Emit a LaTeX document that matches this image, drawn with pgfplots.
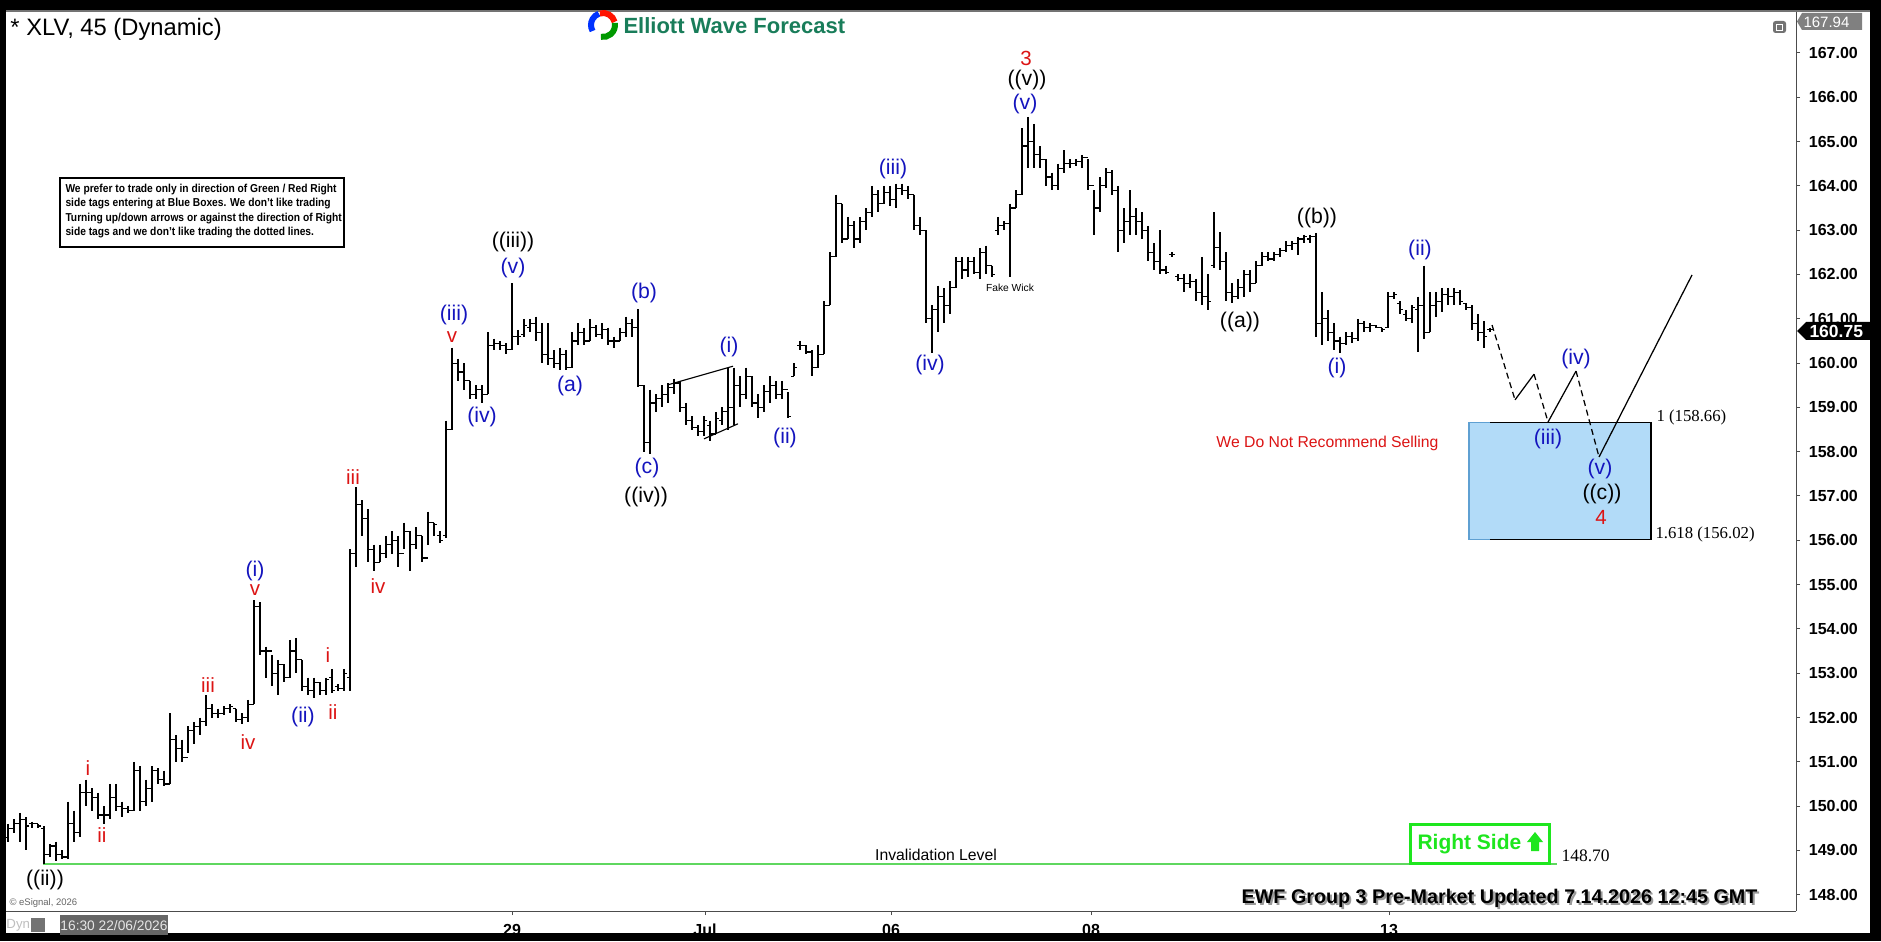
\documentclass[border=0pt]{standalone}
\usepackage{fontspec}
\setmainfont{Liberation Sans}
\newfontfamily\serif{Liberation Serif}
\usepackage{pgfplots}
\usepackage{pgfplotstable}
\pgfplotsset{compat=1.18}

\definecolor{wblue}{RGB}{20,20,190}
\definecolor{wred}{RGB}{220,20,20}
\definecolor{invgreen}{RGB}{95,215,95}
\definecolor{rsgreen}{RGB}{30,230,30}
\definecolor{boxblue}{RGB}{178,219,248}
\definecolor{boxedge}{RGB}{95,160,210}
\definecolor{ewfgreen}{RGB}{25,125,90}

% open / close ticks of the OHLC bars
\pgfdeclareplotmark{otick}{\pgfpathmoveto{\pgfqpoint{-1.2pt}{0pt}}\pgfpathlineto{\pgfqpoint{0pt}{0pt}}\pgfusepathqstroke}
\pgfdeclareplotmark{ctick}{\pgfpathmoveto{\pgfqpoint{0pt}{0pt}}\pgfpathlineto{\pgfqpoint{1.2pt}{0pt}}\pgfusepathqstroke}

% 45 min bars: x position (px), high, low, open, close
\pgfplotstableread{
x h l o c
8 149.6 149.2 149.3 149.5
14 149.7 149.4 149.5 149.6
20 149.85 149.2 149.6 149.7
26 149.75 149.0 149.7 149.55
32 149.65 149.5 149.6 149.6
38 149.6 149.5 149.6 149.55
44 149.55 148.70 149.5 148.9
50 149.15 148.85 148.9 149.1
56 149.2 148.75 149.1 148.9
62 149.0 148.8 148.9 148.85
68 150.1 148.8 148.85 149.6
74 149.9 149.2 149.6 149.4
80 150.5 149.3 149.4 150.3
86 150.6 150.0 150.3 150.3
92 150.4 149.9 150.3 150.2
98 150.3 149.7 150.2 149.8
104 150.0 149.6 149.8 149.8
110 150.5 149.7 149.8 150.2
116 150.5 149.9 150.2 150.0
122 150.1 149.75 150.0 149.95
128 150.0 149.85 149.95 149.9
134 151.0 149.9 149.9 150.8
140 150.9 149.9 150.8 150.1
146 150.6 150.0 150.1 150.4
152 150.9 150.1 150.4 150.8
158 150.85 150.5 150.8 150.6
164 150.8 150.45 150.6 150.5
170 152.1 150.5 150.5 151.5
176 151.6 151.0 151.5 151.3
182 151.5 151.0 151.3 151.1
188 151.8 151.2 151.1 151.7
194 151.9 151.4 151.7 151.8
200 152.0 151.6 151.8 151.9
206 152.5 151.8 151.9 152.2
212 152.3 152.0 152.2 152.1
218 152.2 152.0 152.1 152.1
224 152.25 152.05 152.1 152.2
230 152.3 152.1 152.2 152.25
236 152.2 151.9 152.2 151.95
242 152.1 151.85 151.95 152.0
248 152.4 151.9 152.0 152.3
254 154.65 152.3 152.3 154.5
260 154.6 153.4 154.5 153.5
266 153.6 152.9 153.5 153.5
272 153.4 152.7 153.5 153.0
278 153.3 152.5 153.0 153.2
284 153.2 152.8 153.2 152.9
290 153.75 152.9 152.9 153.5
296 153.8 153.0 153.5 153.3
302 153.3 152.6 153.3 152.7
308 152.9 152.5 152.7 152.6
314 152.9 152.45 152.6 152.8
320 152.8 152.5 152.8 152.6
326 152.9 152.5 152.6 152.85
332 153.1 152.55 152.9 152.6
338 152.75 152.6 152.7 152.65
344 153.1 152.6 152.65 153.0
350 155.8 152.6 152.9 155.7
356 157.2 155.4 155.7 156.8
362 156.9 156.1 156.8 156.5
368 156.7 155.5 156.5 155.8
374 155.9 155.3 155.8 155.5
380 155.9 155.5 155.5 155.7
386 156.1 155.6 155.7 155.9
392 156.2 155.7 155.9 156.0
398 156.1 155.4 156.0 155.7
404 156.4 155.8 155.7 156.2
410 156.2 155.3 156.2 155.9
416 156.3 155.8 155.9 156.1
422 156.1 155.5 156.1 155.6
428 156.65 155.9 155.6 156.4
434 156.4 156.1 156.4 156.35
440 156.2 155.95 156.1 156.0
446 158.7 156.05 156.1 158.5
452 160.35 158.5 158.5 160.0
458 160.1 159.6 160.0 159.8
464 160.0 159.4 159.8 159.6
470 159.6 159.2 159.6 159.3
476 159.5 159.2 159.3 159.4
482 159.5 159.1 159.4 159.3
488 160.7 159.3 159.3 160.4
494 160.55 160.3 160.4 160.45
500 160.5 160.3 160.45 160.4
506 160.45 160.2 160.4 160.3
512 161.8 160.3 160.3 160.6
518 160.75 160.4 160.6 160.6
524 161.0 160.6 160.65 160.85
530 161.0 160.7 160.8 160.9
536 161.05 160.5 160.9 160.7
542 160.9 160.0 160.7 160.2
548 160.9 159.95 160.2 160.1
554 160.3 159.9 160.1 160.0
560 160.35 159.85 160.0 160.2
566 160.3 159.85 160.2 159.9
572 160.7 159.9 159.9 160.5
578 160.9 160.4 160.5 160.7
584 160.8 160.4 160.7 160.5
590 161.0 160.5 160.5 160.8
596 160.85 160.6 160.8 160.65
602 160.9 160.55 160.65 160.75
608 160.8 160.4 160.75 160.5
614 160.6 160.35 160.5 160.5
620 160.8 160.5 160.5 160.7
626 161.05 160.6 160.7 160.9
632 161.0 160.6 160.9 160.8
638 161.22 159.45 160.8 159.5
644 159.5 158.0 159.5 158.2
650 159.4 157.95 158.2 159.1
656 159.3 158.9 159.1 159.2
662 159.5 159.0 159.2 159.3
668 159.55 159.1 159.3 159.45
674 159.65 159.3 159.45 159.55
680 159.6 158.9 159.55 159.0
686 159.1 158.6 159.0 158.7
692 158.8 158.5 158.7 158.55
698 158.6 158.35 158.55 158.45
704 158.8 158.35 158.45 158.7
710 158.7 158.25 158.6 158.4
716 158.9 158.4 158.4 158.75
722 159.0 158.6 158.7 158.9
728 159.9 158.5 158.9 159.0
734 159.9 158.6 159.0 159.5
740 159.7 159.0 159.5 159.3
746 159.9 159.2 159.3 159.7
752 159.7 159.0 159.7 159.1
758 159.3 158.75 159.1 159.0
764 159.5 158.9 159.0 159.35
770 159.7 159.1 159.35 159.5
776 159.6 159.2 159.5 159.3
782 159.6 159.2 159.3 159.4
788 159.35 158.75 159.4 158.8
794 160.0 159.7 159.7 159.9
800 160.5 160.3 160.4 160.4
806 160.4 160.2 160.4 160.25
812 160.3 159.7 160.25 159.9
818 160.4 159.9 159.9 160.2
824 161.4 160.2 160.2 161.3
830 162.5 161.3 161.3 162.4
836 163.8 162.4 162.4 163.6
842 163.6 162.7 163.6 162.8
848 163.3 162.8 162.8 163.1
854 163.2 162.6 163.1 162.8
860 163.3 162.7 162.8 163.2
866 163.5 163.0 163.2 163.4
872 164.0 163.3 163.4 163.8
878 163.9 163.4 163.8 163.6
884 164.0 163.6 163.6 163.85
890 164.0 163.55 163.85 163.7
896 164.05 163.5 163.7 163.95
902 164.05 163.8 163.95 163.9
908 164.0 163.7 163.9 163.8
914 163.8 163.0 163.8 163.1
920 163.3 162.9 163.1 163.0
926 163.0 160.9 163.0 161.0
932 161.3 160.23 161.0 161.2
938 161.75 160.7 161.2 161.5
944 161.7 160.9 161.5 161.3
950 161.85 161.1 161.3 161.7
956 162.4 161.7 161.7 162.3
962 162.4 161.9 162.3 162.1
968 162.4 161.95 162.1 162.3
974 162.4 162.0 162.3 162.05
980 162.6 161.9 162.05 162.5
986 162.65 162.0 162.5 162.2
992 162.2 161.95 162.2 162.0
998 163.3 162.9 163.0 163.1
1004 163.2 163.0 163.1 163.15
1010 163.6 161.95 163.15 163.5
1016 163.9 163.5 163.5 163.8
1022 165.3 163.8 163.8 164.9
1028 165.56 164.4 164.9 165.0
1034 165.4 164.4 165.0 164.7
1040 164.9 164.4 164.7 164.6
1046 164.6 164.0 164.6 164.2
1052 164.3 163.9 164.2 164.0
1058 164.5 163.9 164.0 164.4
1064 164.8 164.3 164.4 164.5
1070 164.6 164.4 164.5 164.5
1076 164.6 164.45 164.5 164.55
1082 164.7 164.4 164.55 164.65
1088 164.6 163.9 164.65 164.0
1094 163.9 162.9 164.0 163.5
1100 164.2 163.4 163.5 164.0
1106 164.4 163.95 164.0 164.3
1112 164.35 163.8 164.3 163.9
1118 164.0 162.5 163.9 163.0
1124 163.5 162.7 163.0 163.2
1130 163.9 162.9 163.2 163.3
1136 163.5 162.9 163.3 163.2
1142 163.4 162.8 163.2 163.0
1148 163.1 162.3 163.0 162.5
1154 162.7 162.1 162.5 162.3
1160 163.0 162.0 162.3 162.1
1166 162.2 162.0 162.1 162.05
1172 162.5 162.4 162.45 162.45
1178 162.0 161.85 161.95 161.9
1184 162.0 161.6 161.9 161.8
1190 162.0 161.7 161.8 161.85
1196 161.9 161.4 161.85 161.6
1202 162.4 161.3 161.6 161.5
1208 162.0 161.2 161.5 161.4
1214 163.4 162.15 162.2 162.6
1220 162.95 162.1 162.6 162.3
1226 162.5 161.4 162.3 161.6
1232 161.8 161.36 161.6 161.5
1238 161.9 161.45 161.5 161.7
1244 162.1 161.5 161.7 162.0
1250 162.1 161.6 162.0 161.8
1256 162.3 161.8 161.8 162.2
1262 162.5 162.2 162.2 162.4
1268 162.5 162.3 162.4 162.35
1274 162.5 162.3 162.35 162.45
1280 162.6 162.4 162.45 162.55
1286 162.75 162.5 162.55 162.65
1292 162.75 162.55 162.65 162.7
1298 162.85 162.45 162.7 162.8
1304 162.9 162.7 162.8 162.85
1310 162.9 162.7 162.8 162.85
1316 162.94 160.6 162.85 160.9
1322 161.6 160.4 160.9 161.0
1328 161.2 160.5 161.0 160.7
1334 160.9 160.3 160.7 160.5
1340 160.6 160.23 160.5 160.45
1346 160.7 160.4 160.45 160.6
1352 160.7 160.45 160.6 160.55
1358 161.0 160.5 160.55 160.9
1364 160.95 160.7 160.9 160.8
1370 160.9 160.7 160.8 160.85
1376 160.85 160.8 160.85 160.8
1382 160.8 160.7 160.8 160.75
1388 161.6 160.8 160.8 161.5
1394 161.6 161.45 161.5 161.55
1400 161.4 161.1 161.35 161.2
1406 161.2 160.95 161.1 161.0
1412 161.3 160.9 161.0 161.25
1418 161.5 160.25 161.2 161.3
1424 162.2 160.55 161.3 160.7
1430 161.6 160.7 160.7 161.3
1436 161.6 161.05 161.3 161.4
1442 161.7 161.15 161.4 161.55
1448 161.7 161.3 161.55 161.5
1454 161.7 161.3 161.5 161.6
1460 161.65 161.3 161.6 161.4
1466 161.35 161.2 161.35 161.25
1472 161.3 160.75 161.25 160.9
1478 161.1 160.5 160.9 160.7
1484 160.95 160.35 160.7 160.6
1490 160.8 160.7 160.75 160.75
}\bars

\begin{document}
\begin{tikzpicture}[
  wb/.style={inner sep=0pt, text=wblue, font=\fontsize{8.5}{9}\selectfont},
  wk/.style={inner sep=0pt, text=black, font=\fontsize{8.5}{9}\selectfont},
  wr/.style={inner sep=0pt, text=wred, font=\fontsize{8.2}{9}\selectfont},
]
% frame, in pixel units of the reference (y downwards)
\begin{scope}[x=0.4pt, y=-0.4pt, shift={(-2.4pt,364.4pt)}]
  \fill[black] (0,0) rectangle (1881,941);
  \fill[white] (6,12) rectangle (1870,933);
  \fill[black!55] (6,10) rectangle (1870,12);
\end{scope}

\begin{axis}[
  scale only axis, width=716pt, height=359.6pt,
  xmin=6, xmax=1796, ymin=147.632, ymax=167.925,
  axis x line*=bottom, axis y line*=right,
  xtick pos=left, xticklabel pos=left,
  ytick pos=right, yticklabel pos=right,
  tick align=outside, major tick length=1.6pt,
  tick style={black!70, line width=0.4pt},
  axis line style={black!70, line width=0.4pt},
  xtick={512,705,891,1091,1389},
  xticklabels={29,Jul,06,08,13},
  ytick={148,149,...,167},
  yticklabel={\pgfmathprintnumber[fixed,fixed zerofill,precision=2,assume math mode=true]{\tick}},
  ticklabel style={font=\fontsize{6.4}{7}\selectfont\bfseries, text=black},
  clip=true,
]
% blue box
\addplot[fill=boxblue, draw=none, forget plot] coordinates {(1469,158.66) (1651,158.66) (1651,156.02) (1469,156.02) (1469,158.66)};
\addplot[boxedge, line width=0.5pt, forget plot] coordinates {(1490,158.66) (1469,158.66) (1469,156.02) (1490,156.02)};
\addplot[black, line width=0.5pt, forget plot] coordinates {(1490,158.66) (1651,158.66) (1651,156.02) (1490,156.02)};
% invalidation level
\addplot[invgreen, line width=0.7pt, forget plot] coordinates {(43,148.70) (1557,148.70)};
% OHLC bars: high-low range
\addplot[draw=none, no markers, forget plot,
  error bars/.cd, y dir=minus, y explicit, error mark=none,
  error bar style={draw=black, solid, line width=0.5pt}]
  table[x=x, y=h, y error minus expr={\thisrow{h}-\thisrow{l}}] {\bars};
% open and close ticks
\addplot[only marks, mark=otick, mark options={draw=black, solid, line width=0.45pt}, forget plot] table[x=x, y=o] {\bars};
\addplot[only marks, mark=ctick, mark options={draw=black, solid, line width=0.45pt}, forget plot] table[x=x, y=c] {\bars};
% wedge lines
\addplot[black, line width=0.45pt, forget plot] coordinates {(668,159.51) (733,159.93)};
\addplot[black, line width=0.45pt, forget plot] coordinates {(704,158.29) (738,158.63)};
% projected path
\addplot[black, line width=0.5pt, dash pattern=on 2.4pt off 1.6pt, forget plot] coordinates {(1492,160.86) (1515,159.17)};
\addplot[black, line width=0.5pt, forget plot] coordinates {(1515,159.17) (1534,159.75)};
\addplot[black, line width=0.5pt, dash pattern=on 2.4pt off 1.6pt, forget plot] coordinates {(1534,159.75) (1548,158.67)};
\addplot[black, line width=0.5pt, forget plot] coordinates {(1548,158.67) (1576,159.82)};
\addplot[black, line width=0.5pt, dash pattern=on 2.4pt off 1.6pt, forget plot] coordinates {(1576,159.82) (1599,157.88)};
\addplot[black, line width=0.5pt, forget plot] coordinates {(1599,157.88) (1692,161.99)};
\end{axis}

\begin{scope}[x=0.4pt, y=-0.4pt, shift={(-2.4pt,364.4pt)}]
  % title and logo
  \node[anchor=west, inner sep=0pt, font=\fontsize{9.5}{10}\selectfont] at (10,29) {* XLV, 45 (Dynamic)};
  \draw[line width=2.4pt, blue!80!cyan] (603,25) ++(150:12) arc[start angle=150, end angle=250, radius=12];
  \draw[line width=2.4pt, red!85!orange] (603,25) ++(255:12) arc[start angle=255, end angle=345, radius=12];
  \draw[line width=2.4pt, green!60!black] (603,25) ++(350:12) arc[start angle=350, end angle=460, radius=12];
  \node[anchor=west, inner sep=0pt, text=ewfgreen, font=\fontsize{8.8}{9}\selectfont\bfseries] at (623,26) {Elliott Wave Forecast};
  % note box
  \draw[line width=0.8pt] (60,178) rectangle (344,247);
  \begin{scope}[every node/.style={anchor=west, inner sep=0pt, font=\fontsize{4.6}{5}\selectfont\bfseries}]
    \node at (65,190) {\scalebox{0.89}[1]{We prefer to trade only in direction of Green / Red Right}};
    \node at (65,204) {\scalebox{0.89}[1]{side tags entering at Blue Boxes. We don't like trading}};
    \node at (65,219) {\scalebox{0.89}[1]{Turning up/down arrows or against the direction of Right}};
    \node at (65,233) {\scalebox{0.89}[1]{side tags and we don't like trading the dotted lines.}};
  \end{scope}
  % wave labels
  \node[wk] at (45,880) {((ii))};
  \node[wr] at (88,768) {i};
  \node[wr] at (102,835) {ii};
  \node[wr] at (208,685) {iii};
  \node[wr] at (248,742) {iv};
  \node[wr] at (255,590) {v};
  \node[wb] at (255,571) {(i)};
  \node[wb] at (303,717) {(ii)};
  \node[wr] at (328,655) {i};
  \node[wr] at (333,712) {ii};
  \node[wr] at (353,477) {iii};
  \node[wr] at (378,586) {iv};
  \node[wr] at (452,337) {v};
  \node[wb] at (454,315) {(iii)};
  \node[wb] at (482,417) {(iv)};
  \node[wb] at (513,268) {(v)};
  \node[wk] at (513,242) {((iii))};
  \node[wb] at (570,386) {(a)};
  \node[wb] at (644,293) {(b)};
  \node[wb] at (647,468) {(c)};
  \node[wk] at (646,497) {((iv))};
  \node[wb] at (729,347) {(i)};
  \node[wb] at (785,438) {(ii)};
  \node[wb] at (893,169) {(iii)};
  \node[wb] at (930,365) {(iv)};
  \node[wb] at (1025,104) {(v)};
  \node[wk] at (1027,80) {((v))};
  \node[wr] at (1026,58) {3};
  \node[inner sep=0pt, font=\fontsize{4.1}{5}\selectfont] at (1010,288) {Fake Wick};
  \node[wk] at (1240,322) {((a))};
  \node[wk] at (1317,218) {((b))};
  \node[wb] at (1337,368) {(i)};
  \node[wb] at (1420,250) {(ii)};
  \node[wb] at (1548,439) {(iii)};
  \node[wb] at (1576,359) {(iv)};
  \node[wb] at (1600,469) {(v)};
  \node[wk] at (1602,494) {((c))};
  \node[wr] at (1601,517) {4};
  % box texts
  \node[anchor=east, inner sep=0pt, text=wred, font=\fontsize{6.3}{7}\selectfont] at (1439,443) {We Do Not Recommend Selling};
  \node[anchor=west, inner sep=0pt, font=\serif\fontsize{6.7}{7}\selectfont] at (1656,417) {1 (158.66)};
  \node[anchor=west, inner sep=0pt, font=\serif\fontsize{6.7}{7}\selectfont] at (1655,534) {1.618 (156.02)};
  % invalidation
  \node[inner sep=0pt, font=\fontsize{6.3}{7}\selectfont] at (936,855) {Invalidation Level};
  \node[anchor=west, inner sep=0pt, font=\serif\fontsize{7}{8}\selectfont] at (1561,856) {148.70};
  % right side tag
  \draw[rsgreen, line width=1.2pt] (1410,824) rectangle (1549,863);
  \node[anchor=west, inner sep=0pt, text=rsgreen, font=\fontsize{8.4}{9}\selectfont\bfseries] at (1417,844) {Right Side};
  \fill[rsgreen] (1527,842) -- (1535,832) -- (1543,842) -- (1539,842) -- (1539,851) -- (1531,851) -- (1531,842) -- cycle;
  % footer
  \node[anchor=east, inner sep=0pt, text=black!40, font=\fontsize{7.9}{8}\selectfont\bfseries] at (1760,900) {EWF Group 3 Pre-Market Updated 7.14.2026 12:45 GMT};
  \node[anchor=east, inner sep=0pt, font=\fontsize{7.9}{8}\selectfont\bfseries] at (1758,898) {EWF Group 3 Pre-Market Updated 7.14.2026 12:45 GMT};
  \node[anchor=west, inner sep=0pt, text=black!60, font=\fontsize{3.8}{4}\selectfont] at (9,903) {\textcopyright{} eSignal, 2026};
  % date cursor, lock
  \node[anchor=west, inner sep=0pt, text=black!25, font=\fontsize{5.3}{6}\selectfont] at (6,925) {Dyn};
  \fill[black!55] (31,918) rectangle (45,932);
  \fill[black!60] (60,915) rectangle (168,935);
  \node[inner sep=0pt, text=white!90!black, font=\fontsize{5.5}{6}\selectfont] at (114,926) {16:30 22/06/2026};
  % price flags
  \fill[black!50] (1797,21.5) -- (1802,13) -- (1862,13) -- (1862,30) -- (1802,30) -- cycle;
  \node[anchor=west, inner sep=0pt, text=white, font=\fontsize{6}{7}\selectfont] at (1803,22) {167.94};
  \fill[black] (1797,331) -- (1806,322) -- (1877,322) -- (1877,340) -- (1806,340) -- cycle;
  \node[anchor=west, inner sep=0pt, text=white, font=\fontsize{7}{8}\selectfont\bfseries] at (1809,331) {160.75};
  % small window icon
  \fill[black!55, rounded corners=1pt] (1773,21) rectangle (1786,33);
  \draw[white, line width=0.4pt] (1776,25) rectangle (1782,31);
  \pgfresetboundingbox
  \path[use as bounding box] (0,0) rectangle (1881,941);
\end{scope}
\end{tikzpicture}
\end{document}
